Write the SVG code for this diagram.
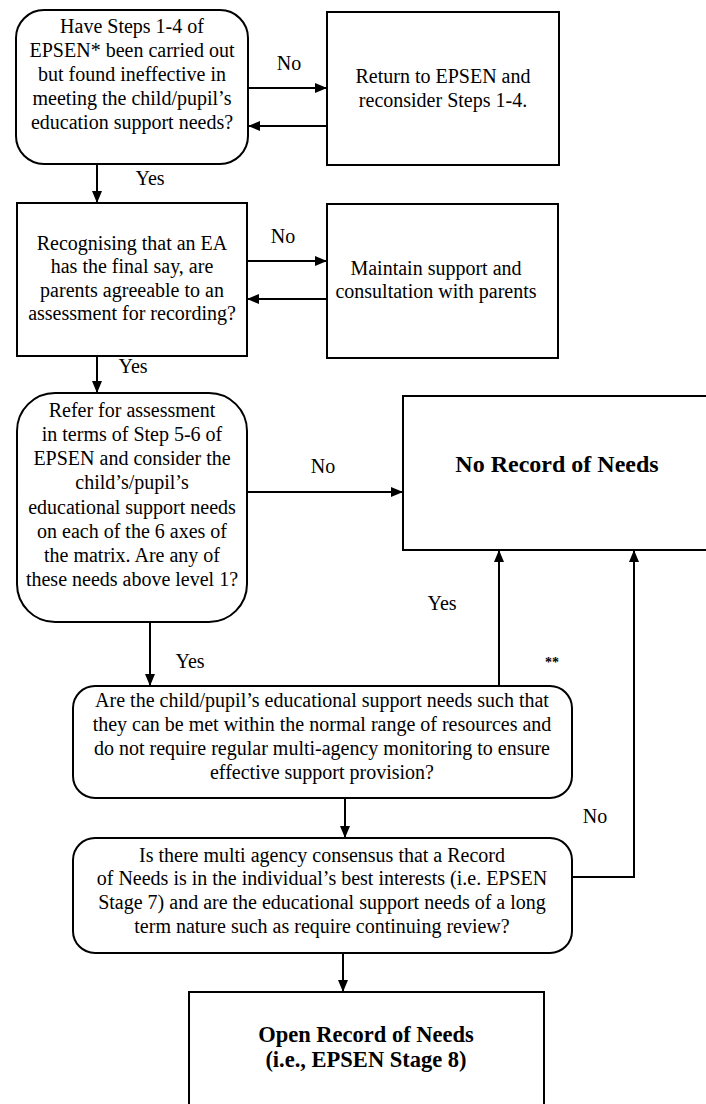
<svg xmlns="http://www.w3.org/2000/svg" width="706" height="1104" viewBox="0 0 706 1104">
<style>
  .shape{fill:#fff;stroke:#000;stroke-width:2}
  .t{font-family:"Liberation Serif","Times New Roman",serif;font-size:20px;fill:#000;text-anchor:middle}
  .b{font-family:"Liberation Serif","Times New Roman",serif;font-weight:bold;fill:#000;text-anchor:middle}
  .c{fill:none;stroke:#000;stroke-width:2}
</style>
<defs>
  <marker id="arr" markerUnits="userSpaceOnUse" markerWidth="12" markerHeight="12" viewBox="0 0 12 12" refX="11" refY="6" orient="auto">
    <path d="M0,1 L12,6 L0,11 Z" fill="#000"/>
  </marker>
</defs>
<rect width="706" height="1104" fill="#fff"/>

<g id="connectors">
  <line class="c" x1="248" y1="88" x2="326" y2="88" marker-end="url(#arr)"/>
  <line class="c" x1="327" y1="126" x2="249" y2="126" marker-end="url(#arr)"/>
  <line class="c" x1="97" y1="164" x2="97" y2="202" marker-end="url(#arr)"/>
  <line class="c" x1="247" y1="261" x2="326" y2="261" marker-end="url(#arr)"/>
  <line class="c" x1="327" y1="299" x2="248" y2="299" marker-end="url(#arr)"/>
  <line class="c" x1="97" y1="356" x2="97" y2="392" marker-end="url(#arr)"/>
  <line class="c" x1="247" y1="492" x2="402" y2="492" marker-end="url(#arr)"/>
  <line class="c" x1="150" y1="622" x2="150" y2="685" marker-end="url(#arr)"/>
  <line class="c" x1="499" y1="686" x2="499" y2="551" marker-end="url(#arr)"/>
  <line class="c" x1="345" y1="798" x2="345" y2="837" marker-end="url(#arr)"/>
  <polyline class="c" points="572,877 634,877 634,551" marker-end="url(#arr)"/>
  <line class="c" x1="343" y1="953" x2="343" y2="991" marker-end="url(#arr)"/>
  <text class="t" x="289" y="70">No</text>
  <text class="t" x="150" y="185">Yes</text>
  <text class="t" x="283" y="243">No</text>
  <text class="t" x="133" y="373">Yes</text>
  <text class="t" x="323" y="473">No</text>
  <text class="t" x="190" y="668">Yes</text>
  <text class="t" x="442" y="610">Yes</text>
  <text class="b" x="552" y="667" font-size="14">**</text>
  <text class="t" x="595" y="823">No</text>
</g>

<g id="node1">
  <rect class="shape" x="16" y="10" width="232" height="154" rx="28" ry="28"/>
  <text class="t" x="132" y="33">Have Steps 1-4 of</text>
  <text class="t" x="132" y="57">EPSEN* been carried out</text>
  <text class="t" x="132" y="81">but found ineffective in</text>
  <text class="t" x="132" y="105">meeting the child/pupil’s</text>
  <text class="t" x="132" y="129">education support needs?</text>
</g>

<g id="node1b">
  <rect class="shape" x="327" y="12" width="232" height="153"/>
  <text class="t" x="443" y="83">Return to EPSEN and</text>
  <text class="t" x="443" y="107">reconsider Steps 1-4.</text>
</g>

<g id="node2">
  <rect class="shape" x="17" y="203" width="230" height="153"/>
  <text class="t" x="132" y="250">Recognising that an EA</text>
  <text class="t" x="132" y="273">has the final say, are</text>
  <text class="t" x="132" y="297">parents agreeable to an</text>
  <text class="t" x="132" y="320">assessment for recording?</text>
</g>

<g id="node2b">
  <rect class="shape" x="327" y="204" width="231" height="154"/>
  <text class="t" x="436" y="275">Maintain support and</text>
  <text class="t" x="436" y="298">consultation with parents</text>
</g>

<g id="node3">
  <rect class="shape" x="17" y="393" width="230" height="229" rx="38" ry="38"/>
  <text class="t" x="132" y="417">Refer for assessment</text>
  <text class="t" x="132" y="441">in terms of Step 5-6 of</text>
  <text class="t" x="132" y="465">EPSEN and consider the</text>
  <text class="t" x="132" y="489">child’s/pupil’s</text>
  <text class="t" x="132" y="514">educational support needs</text>
  <text class="t" x="132" y="538">on each of the 6 axes of</text>
  <text class="t" x="132" y="562">the matrix. Are any of</text>
  <text class="t" x="132" y="586">these needs above level 1?</text>
</g>

<g id="node-norecord">
  <path class="shape" d="M706,396 H403 V550 H706"/>
  <text class="b" x="557" y="472" font-size="24">No Record of Needs</text>
</g>

<g id="node4">
  <rect class="shape" x="73" y="686" width="499" height="112" rx="22" ry="22"/>
  <text class="t" x="322" y="707">Are the child/pupil’s educational support needs such that</text>
  <text class="t" x="322" y="731">they can be met within the normal range of resources and</text>
  <text class="t" x="322" y="755">do not require regular multi-agency monitoring to ensure</text>
  <text class="t" x="322" y="779">effective support provision?</text>
</g>

<g id="node5">
  <rect class="shape" x="73" y="838" width="499" height="115" rx="22" ry="22"/>
  <text class="t" x="322" y="862">Is there multi agency consensus that a Record</text>
  <text class="t" x="322" y="885">of Needs is in the individual’s best interests (i.e. EPSEN</text>
  <text class="t" x="322" y="909">Stage 7) and are the educational support needs of a long</text>
  <text class="t" x="322" y="933">term nature such as require continuing review?</text>
</g>

<g id="node-open">
  <path class="shape" d="M189,1104 V992 H544 V1104"/>
  <text class="b" x="366" y="1042" font-size="22.5">Open Record of Needs</text>
  <text class="b" x="366" y="1067" font-size="22.5">(i.e., EPSEN Stage 8)</text>
</g>
</svg>
